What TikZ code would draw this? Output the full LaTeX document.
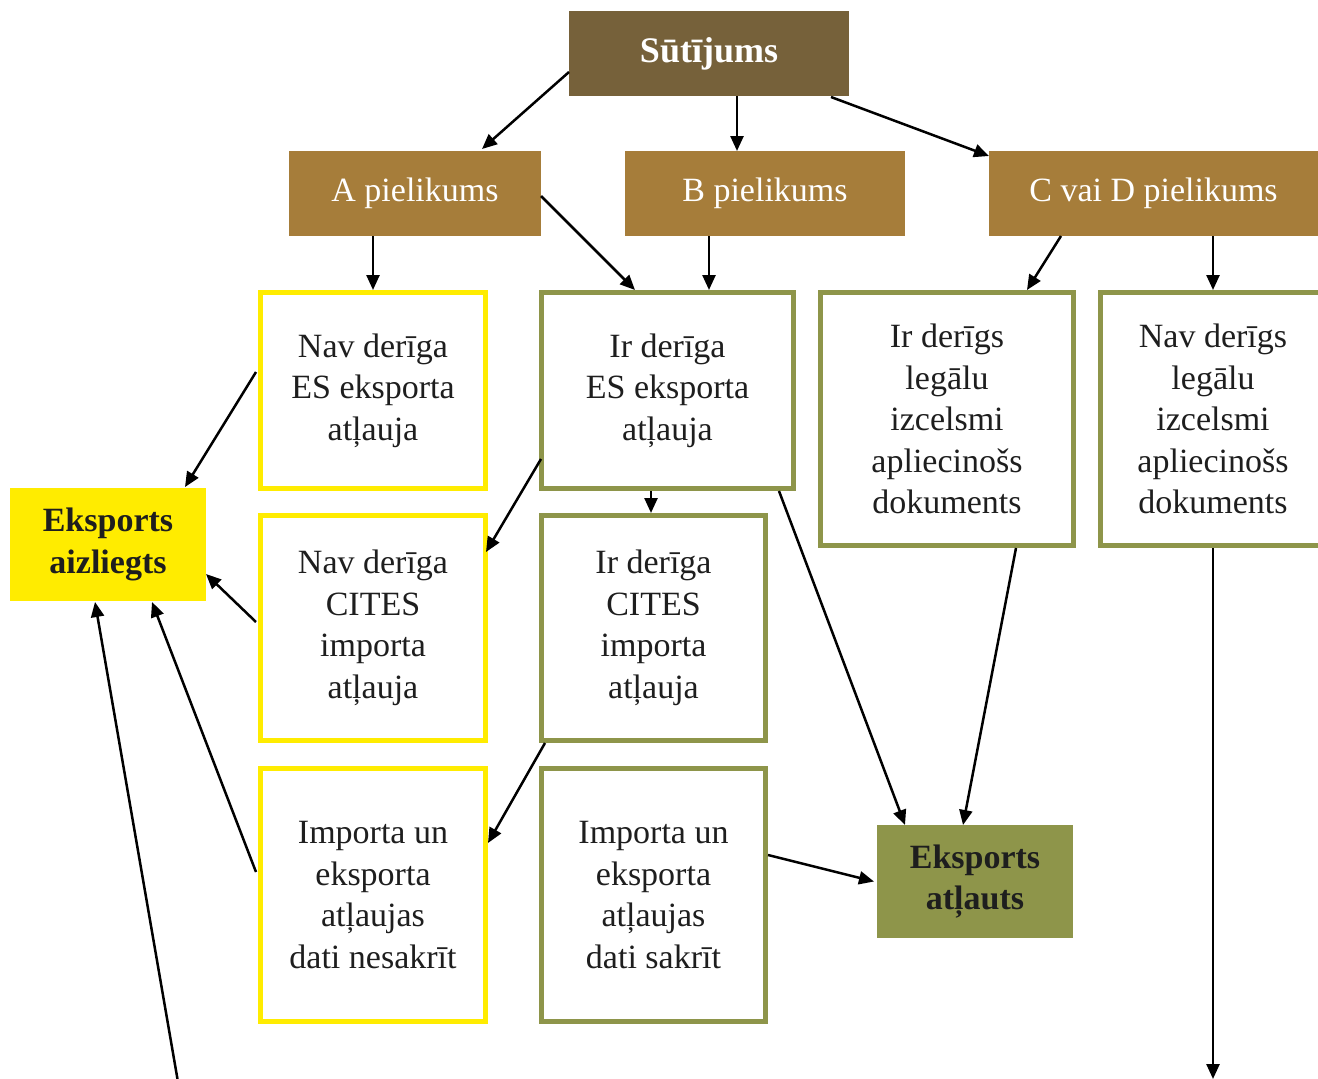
\documentclass[tikz,border=0pt]{standalone}
\usepackage{fontspec}
\setmainfont{Liberation Serif}
\usetikzlibrary{arrows.meta,calc}
\definecolor{sutc}{HTML}{76613A}
\definecolor{pielc}{HTML}{A67D3A}
\definecolor{yelc}{HTML}{FFEC00}
\definecolor{grnc}{HTML}{8E954A}
\definecolor{txtc}{HTML}{1E1E1E}
\tikzset{
  txt/.style={font=\fontsize{34}{41.5}\selectfont, align=center, text=txtc},
  headbox/.style={txt, fill=pielc, text=white, inner sep=0pt, outer sep=0pt},
  ybox/.style={txt, draw=yelc, line width=5pt, fill=white, inner sep=0pt, outer sep=2.5pt},
  gbox/.style={txt, draw=grnc, line width=5pt, fill=white, inner sep=0pt, outer sep=2.5pt},
  endbox/.style={txt, font=\fontsize{34}{41.5}\selectfont\bfseries, inner sep=0pt, outer sep=0pt},
  arr/.style={line width=2.5pt, -{Triangle[length=15pt,width=13pt]}}
}
\begin{document}
\begin{tikzpicture}[x=1pt,y=-1pt]
\clip (0,0) rectangle (1318,1079);
\useasboundingbox (0,0) rectangle (1318,1079);
\fill[white] (0,0) rectangle (1318,1079);
% top
\node[txt, fill=sutc, text=white, font=\fontsize{36}{41}\selectfont\bfseries, minimum width=280pt, minimum height=85pt, inner sep=0pt, outer sep=0pt] (sut) at (709,53.5) {Sūtījums};
\node[headbox, minimum width=252pt, minimum height=85pt] (pa) at (415,193.5) {A pielikums};
\node[headbox, minimum width=280pt, minimum height=85pt] (pb) at (765,193.5) {B pielikums};
\node[headbox, minimum width=329pt, minimum height=85pt] (pc) at (1153.5,193.5) {C vai D pielikums};
% row 1
\node[ybox, minimum width=225pt, minimum height=196pt] (n1) at (373,390.5) {Nav derīga\\ES eksporta\\atļauja};
\node[gbox, minimum width=252pt, minimum height=196pt] (g1) at (667.5,390.5) {Ir derīga\\ES eksporta\\atļauja};
\node[gbox, minimum width=253pt, minimum height=253pt] (g2) at (947,419) {Ir derīgs\\legālu\\izcelsmi\\apliecinošs\\dokuments};
\node[gbox, minimum width=225pt, minimum height=253pt] (g3) at (1213,419) {Nav derīgs\\legālu\\izcelsmi\\apliecinošs\\dokuments};
% left result
\node[endbox, fill=yelc, minimum width=196pt, minimum height=113pt] (deny) at (108,544.5) {Eksports\\aizliegts};
% row 2
\node[ybox, minimum width=225pt, minimum height=225pt] (n2) at (373,628) {Nav derīga\\CITES\\importa\\atļauja};
\node[gbox, minimum width=224pt, minimum height=225pt] (g4) at (653.5,628) {Ir derīga\\CITES\\importa\\atļauja};
% row 3
\node[ybox, minimum width=225pt, minimum height=253pt] (n3) at (373,895) {Importa un\\eksporta\\atļaujas\\dati nesakrīt};
\node[gbox, minimum width=224pt, minimum height=253pt] (g5) at (653.5,895) {Importa un\\eksporta\\atļaujas\\dati sakrīt};
% right result
\node[endbox, fill=grnc, minimum width=196pt, minimum height=113pt] (allow) at (975,881.5) {Eksports\\atļauts};
% free ends
\coordinate (freeL) at (178,1082);
\coordinate (freeR) at (1213,1079);
% arrows
\draw[arr] ($(sut.west)+(0,18.5)$) -- ($(pa.north)+(67,-2)$);
\draw[arr] ($(sut.south)+(28,0)$) -- ($(pb.north)+(-28,0)$);
\draw[arr] ($(sut.south east)+(-18,1)$) -- ($(pc.north west)+(0,5)$);
\draw[arr] ($(pa.south)+(-42,0)$) -- ($(n1.north)$);
\draw[arr] ($(pa.east)+(0,2.5)$) -- ($(g1.north west)+(96,0)$);
\draw[arr] ($(pb.south)+(-56,0)$) -- ($(g1.north)+(41.5,0)$);
\draw[arr] ($(pc.south)+(-92.5,0)$) -- ($(g2.north)+(80,0)$);
\draw[arr] ($(pc.south)+(59.5,0)$) -- (g3.north);
\draw[arr] ($(n1.west)+(-2,-18.5)$) -- ($(deny.north east)+(-21,-1)$);
\draw[arr] ($(g1.south west)+(2,-32)$) -- ($(n2.north east)+(-2,39)$);
\draw[arr] ($(g1.south)+(-16.5,0)$) -- ($(g4.north)+(-2.5,0)$);
\draw[arr] ($(g1.south east)+(-17,0)$) -- ($(allow.north west)+(28,0)$);
\draw[arr] ($(n2.west)+(-2,-6)$) -- ($(deny.east)+(0,29.5)$);
\draw[arr] ($(g4.south west)+(6,0)$) -- ($(n3.north east)+(0,77)$);
\draw[arr] ($(n3.west)+(-2,-23)$) -- ($(deny.south)+(44,1)$);
\draw[arr] (freeL) -- ($(deny.south)+(-13,1)$);
\draw[arr] ($(g2.south)+(69,0)$) -- ($(allow.north)+(-12,0)$);
\draw[arr] ($(g5.east)+(0,-40)$) -- ($(allow.west)+(-3,0)$);
\draw[arr] (g3.south) -- (freeR);
\end{tikzpicture}
\end{document}
